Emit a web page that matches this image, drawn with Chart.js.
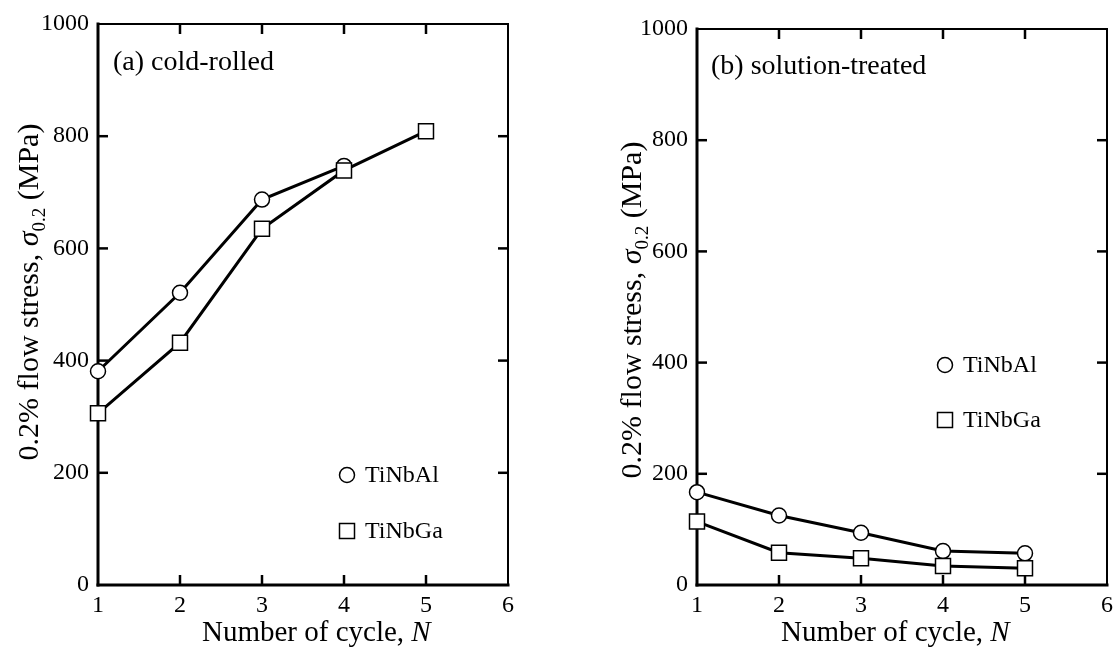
<!DOCTYPE html>
<html>
<head>
<meta charset="utf-8">
<script src="https://cdn.jsdelivr.net/npm/chart.js@4.4.0/dist/chart.umd.min.js"></script>
<style>
    html, body { margin: 0; padding: 0; background: #ffffff; overflow: hidden; }
    #wrap { position: relative; width: 1113px; height: 647px; overflow: hidden; }
    canvas { position: absolute; top: 0; }
    #left { left: 0; }
    #right { left: 556px; }
</style>
</head>
<body>
<div id="wrap">
    <canvas id="left" width="556" height="647"></canvas>
    <canvas id="right" width="600" height="647"></canvas>
</div>
<script>
const cycles = [1, 2, 3, 4, 5];
const coldTiNbAl = [381, 521, 687, 747];
const coldTiNbGa = [306, 432, 635, 739, 809];
const solTiNbAl = [167, 125, 94, 61, 57];
const solTiNbGa = [114, 58, 48, 34, 30];
const seriesNames = ["TiNbAl", "TiNbGa"];
const seriesStyles = ["circle", "rect"];
const xRange = [1, 6];
const yRange = [0, 1000];
const xStep = 1;
const yStep = 200;

const SERIF = '"Liberation Serif", "Times New Roman", serif';

function makeDataset(name, values, style, order) {
    return {
        label: name,
        data: values.map(function (v, i) { return { x: cycles[i], y: v }; }),
        borderColor: "#000000",
        borderWidth: 3,
        tension: 0,
        pointStyle: style,
        pointRadius: style === "rect" ? 10.6 : 7.5,
        pointHoverRadius: style === "rect" ? 10.6 : 7.5,
        pointBackgroundColor: "#ffffff",
        pointBorderColor: "#000000",
        pointBorderWidth: 1.5,
        clip: false,
        order: order
    };
}

function strokeLine(ctx, x1, y1, x2, y2) {
    ctx.beginPath();
    ctx.moveTo(x1, y1);
    ctx.lineTo(x2, y2);
    ctx.stroke();
}

// box and inward ticks on all four sides
const framePlugin = {
    id: "frame",
    beforeDatasetsDraw(chart) {
        const ctx = chart.ctx;
        const a = chart.chartArea;
        const xs = chart.scales.x;
        const ys = chart.scales.y;
        const len = 10;

        ctx.save();
        ctx.strokeStyle = "#000000";
        ctx.lineWidth = 2.5;
        xs.ticks.forEach(function (t) {
            if (t.value <= xs.min || t.value >= xs.max) return;
            const px = xs.getPixelForValue(t.value);
            strokeLine(ctx, px, a.bottom, px, a.bottom - len);
            strokeLine(ctx, px, a.top, px, a.top + len);
        });
        ys.ticks.forEach(function (t) {
            if (t.value <= ys.min || t.value >= ys.max) return;
            const py = ys.getPixelForValue(t.value);
            strokeLine(ctx, a.left, py, a.left + len, py);
            strokeLine(ctx, a.right, py, a.right - len, py);
        });

        ctx.lineCap = "square";
        ctx.lineWidth = 2;
        strokeLine(ctx, a.left, a.top, a.right, a.top);
        strokeLine(ctx, a.right, a.top, a.right, a.bottom);
        ctx.lineWidth = 3;
        strokeLine(ctx, a.left, a.top, a.left, a.bottom);
        strokeLine(ctx, a.left, a.bottom, a.right, a.bottom);
        ctx.restore();
    }
};

function drawRuns(ctx, runs, startX, baseY) {
    let x = startX;
    runs.forEach(function (r) {
        ctx.font = r.font;
        ctx.fillText(r.text, x, baseY + (r.dy || 0));
        x += ctx.measureText(r.text).width;
    });
}

function runsWidth(ctx, runs) {
    let w = 0;
    runs.forEach(function (r) {
        ctx.font = r.font;
        w += ctx.measureText(r.text).width;
    });
    return w;
}

const yTitleRuns = [
    { text: "0.2% flow stress, ", font: "30px " + SERIF },
    { text: "\u03c3", font: "italic 30px " + SERIF },
    { text: "0.2", font: "19px " + SERIF, dy: 7 },
    { text: " (MPa)", font: "30px " + SERIF }
];
const xTitleRuns = [
    { text: "Number of cycle, ", font: "29px " + SERIF },
    { text: "N", font: "italic 29px " + SERIF }
];

// titles, panel label and in-plot legend
const textPlugin = {
    id: "texts",
    afterDraw(chart, args, opts) {
        const ctx = chart.ctx;
        const a = chart.chartArea;
        ctx.save();
        ctx.fillStyle = "#000000";
        ctx.textAlign = "left";
        ctx.textBaseline = "alphabetic";

        // y title, rotated
        ctx.save();
        ctx.translate(a.left - opts.yTitleGap, opts.yTitleCenter);
        ctx.rotate(-Math.PI / 2);
        drawRuns(ctx, yTitleRuns, -runsWidth(ctx, yTitleRuns) / 2, 0);
        ctx.restore();

        // x title
        drawRuns(ctx, xTitleRuns, opts.xTitleX, opts.xTitleBase);

        // panel label
        ctx.font = "28px " + SERIF;
        ctx.fillText(opts.panel, a.left + opts.panelDx, a.top + opts.panelDy);

        // legend
        ctx.font = "24px " + SERIF;
        ctx.textBaseline = "middle";
        ctx.lineWidth = 1.5;
        ctx.strokeStyle = "#000000";
        seriesNames.forEach(function (name, i) {
            const cx = a.left + opts.legendDx;
            const cy = a.top + opts.legendDy[i];
            ctx.beginPath();
            if (seriesStyles[i] === "circle") {
                ctx.arc(cx, cy, 7.5, 0, Math.PI * 2);
            } else {
                ctx.rect(cx - 7.5, cy - 7.5, 15, 15);
            }
            ctx.fillStyle = "#ffffff";
            ctx.fill();
            ctx.stroke();
            ctx.fillStyle = "#000000";
            ctx.fillText(name, cx + 18, cy + 1);
        });
        ctx.restore();
    }
};

function buildChart(canvasId, alValues, gaValues, layoutPad, yAxisWidth, texts) {
    const canvas = document.getElementById(canvasId);
    return new Chart(canvas, {
        type: "line",
        data: {
            datasets: [
                makeDataset(seriesNames[0], alValues, seriesStyles[0], 1),
                makeDataset(seriesNames[1], gaValues, seriesStyles[1], 0)
            ]
        },
        options: {
            responsive: false,
            animation: false,
            events: [],
            layout: { padding: layoutPad },
            plugins: {
                legend: { display: false },
                tooltip: { enabled: false },
                texts: texts
            },
            scales: {
                x: {
                    type: "linear",
                    min: xRange[0],
                    max: xRange[1],
                    grid: { display: false, drawTicks: false },
                    border: { display: false },
                    ticks: {
                        stepSize: xStep,
                        color: "#000000",
                        padding: 6,
                        maxRotation: 0,
                        font: { family: SERIF, size: 24 },
                        callback: function (value) { return String(value); }
                    },
                    afterFit: function (scale) { scale.height = 62; }
                },
                y: {
                    min: yRange[0],
                    max: yRange[1],
                    grid: { display: false, drawTicks: false },
                    border: { display: false },
                    ticks: {
                        stepSize: yStep,
                        color: "#000000",
                        padding: 9,
                        font: { family: SERIF, size: 24 },
                        callback: function (value) { return String(value); }
                    },
                    afterFit: function (scale) { scale.width = yAxisWidth; }
                }
            }
        },
        plugins: [framePlugin, textPlugin]
    });
}

buildChart("left", coldTiNbAl, coldTiNbGa,
    { left: 0, top: 24, right: 48, bottom: 0 }, 98,
    {
        panel: "(a) cold-rolled", panelDx: 15, panelDy: 46,
        legendDx: 249, legendDy: [451, 507],
        yTitleGap: 60, yTitleCenter: 292,
        xTitleX: 202, xTitleBase: 641
    });

buildChart("right", solTiNbAl, solTiNbGa,
    { left: 0, top: 29, right: 49, bottom: 0 }, 141,
    {
        panel: "(b) solution-treated", panelDx: 14, panelDy: 45,
        legendDx: 248, legendDy: [336, 391],
        yTitleGap: 56, yTitleCenter: 310,
        xTitleX: 781 - 556, xTitleBase: 641
    });
</script>
</body>
</html>
